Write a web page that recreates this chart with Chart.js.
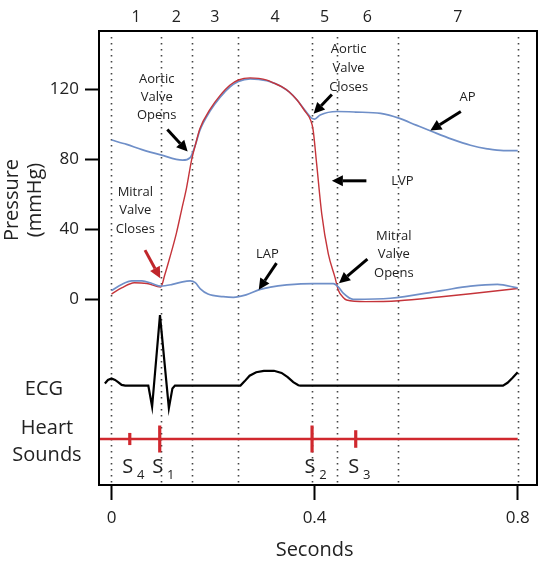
<!DOCTYPE html>
<html>
<head>
<meta charset="utf-8">
<script src="https://cdn.jsdelivr.net/npm/chart.js@4.4.1/dist/chart.umd.min.js"></script>
<style>
  html, body { margin: 0; padding: 0; background: #fff; }
</style>
</head>
<body>
<canvas id="wiggers" width="539" height="564"></canvas>
<script>
// phase boundaries (s) and phase numbers
const phaseT = [0, 0.097, 0.158, 0.249, 0.395, 0.444, 0.564, 0.8];
const phaseLabels = ["1", "2", "3", "4", "5", "6", "7"];

// aortic pressure (mmHg)
const apT = [0, 0.03, 0.06, 0.097, 0.14, 0.155, 0.165, 0.174, 0.194, 0.214, 0.233, 0.25, 0.273, 0.29, 0.306, 0.32, 0.335, 0.35, 0.365, 0.381, 0.394, 0.4, 0.411, 0.444, 0.48, 0.53, 0.566, 0.6, 0.63, 0.67, 0.707, 0.74, 0.772, 0.8];
const apP = [91, 88.5, 85.5, 82.5, 79.5, 81, 88, 96.5, 107.5, 115.5, 121.3, 124.5, 126, 125.7, 124.9, 123.5, 121.5, 118.5, 114, 108, 103.5, 103, 105.3, 107.3, 107, 106.2, 103.5, 99.5, 96, 91.5, 88, 86, 85, 85];

// left ventricular pressure (mmHg)
const lvpT = [0, 0.02, 0.045, 0.07, 0.097, 0.105, 0.115, 0.128, 0.138, 0.148, 0.158, 0.166, 0.174, 0.194, 0.214, 0.233, 0.25, 0.273, 0.29, 0.306, 0.32, 0.335, 0.35, 0.365, 0.381, 0.392, 0.397, 0.404, 0.414, 0.427, 0.44, 0.447, 0.455, 0.463, 0.5, 0.566, 0.65, 0.707, 0.8];
const lvpP = [3, 6.5, 9.5, 9, 7, 14, 24, 38, 51, 64, 80, 89, 97.5, 108.5, 116.5, 122.3, 125.3, 126.5, 126.2, 125.2, 123.5, 121.5, 118.5, 114, 107.5, 102.5, 97, 77.5, 49, 26, 12.7, 5, 1.5, -0.4, -1.3, -0.8, 1.5, 3.2, 6.2];

// left atrial pressure (mmHg)
const lapT = [0, 0.02, 0.04, 0.06, 0.08, 0.097, 0.12, 0.14, 0.155, 0.165, 0.175, 0.19, 0.22, 0.24, 0.265, 0.293, 0.313, 0.345, 0.397, 0.437, 0.447, 0.457, 0.476, 0.549, 0.65, 0.707, 0.76, 0.8];
const lapP = [5, 8.5, 10.5, 10.5, 9, 7.5, 8.5, 10, 10.5, 9.5, 6, 3, 1.5, 1.1, 2.5, 5.7, 7, 8.2, 9, 9, 7, 3.4, 0, 0.6, 5, 7.5, 8.5, 6.5];

// ECG (mV, arbitrary)
const ecgT = [-0.013, -0.007, 0, 0.007, 0.013, 0.02, 0.027, 0.0725, 0.08, 0.0955, 0.113, 0.12, 0.125, 0.254, 0.262, 0.272, 0.285, 0.3, 0.32, 0.335, 0.347, 0.358, 0.368, 0.372, 0.771, 0.78, 0.79, 0.8];
const ecgV = [0.03, 0.08, 0.1, 0.08, 0.05, 0.01, 0, 0, -0.3, 1.0, -0.32, -0.04, 0, 0, 0.06, 0.14, 0.19, 0.21, 0.21, 0.18, 0.12, 0.05, 0.005, 0, 0, 0.04, 0.11, 0.19];

// heart sounds
const soundT = [0.036, 0.095, 0.395, 0.481];
const soundAmp = [0.45, 1, 1, 0.65];
const soundNames = ["4", "1", "2", "3"];

const xTicks = [0, 0.4, 0.8];
const yTicks = [0, 40, 80, 120];

const BLUE = "#6f8fc8";
const RED = "#c5343a";
const SOUND_RED = "#d0282e";
const FONT = "'Open Sans', sans-serif";

const xMin = -0.0246, xMax = 0.838;

function pts(xs, ys) {
  return xs.map((x, i) => ({ x: x, y: ys[i] }));
}

// annotations: text lines at (t, mmHg), arrows from tail to head in (t, mmHg)
const notes = [
  { lines: ["Aortic", "Valve", "Opens"], t: 0.089, p: [125.7, 115.4, 105], arrow: [0.11, 97, 0.15, 84.4], color: "#000" },
  { lines: ["Mitral", "Valve", "Closes"], t: 0.047, p: [61.4, 51.1, 40.2], arrow: [0.066, 28.1, 0.096, 12.1], color: "#c0262b" },
  { lines: ["LAP"], t: 0.307, p: [25.8], arrow: [0.325, 20.7, 0.29, 5.5], color: "#000" },
  { lines: ["Aortic", "Valve", "Closes"], t: 0.467, p: [143, 132, 121], arrow: [0.434, 117, 0.398, 106], color: "#000" },
  { lines: ["AP"], t: 0.701, p: [115.4], arrow: [0.688, 107.3, 0.628, 96.4], color: "#000" },
  { lines: ["LVP"], t: 0.573, p: [67.7], arrow: [0.502, 67.7, 0.434, 67.7], color: "#000" },
  { lines: ["Mitral", "Valve", "Opens"], t: 0.556, p: [36.2, 25.8, 14.9], arrow: [0.504, 23, 0.448, 9.2], color: "#000" }
];

function drawArrow(ctx, x1, y1, x2, y2, color) {
  const ang = Math.atan2(y2 - y1, x2 - x1);
  const head = 11, half = 5.5;
  const bx = x2 - Math.cos(ang) * head, by = y2 - Math.sin(ang) * head;
  ctx.strokeStyle = color;
  ctx.fillStyle = color;
  ctx.lineWidth = 3;
  ctx.beginPath();
  ctx.moveTo(x1, y1);
  ctx.lineTo(bx, by);
  ctx.stroke();
  ctx.beginPath();
  ctx.moveTo(x2, y2);
  ctx.lineTo(bx + Math.sin(ang) * half, by - Math.cos(ang) * half);
  ctx.lineTo(bx - Math.sin(ang) * half, by + Math.cos(ang) * half);
  ctx.closePath();
  ctx.fill();
}

const decor = {
  id: "decor",
  beforeDatasetsDraw(chart) {
    const { ctx, chartArea: a, scales: { x } } = chart;
    ctx.save();
    ctx.strokeStyle = "#444";
    ctx.lineWidth = 1.6;
    ctx.setLineDash([1.6, 4.4]);
    phaseT.forEach(t => {
      const px = Math.round(x.getPixelForValue(t)) + 0.5;
      ctx.beginPath();
      ctx.moveTo(px, a.top + 6);
      ctx.lineTo(px, a.bottom - 2);
      ctx.stroke();
    });
    ctx.restore();
  },
  afterDatasetsDraw(chart) {
    const { ctx, chartArea: a, scales: { x, y, snd } } = chart;
    ctx.save();
    // frame
    ctx.strokeStyle = "#000";
    ctx.lineWidth = 2;
    ctx.strokeRect(a.left, a.top, a.right - a.left, a.bottom - a.top);

    // phase numbers
    ctx.fillStyle = "#222";
    ctx.font = "16px " + FONT;
    ctx.textAlign = "center";
    ctx.textBaseline = "middle";
    phaseLabels.forEach((lab, i) => {
      const t = (phaseT[i] + phaseT[i + 1]) / 2;
      ctx.fillText(lab, x.getPixelForValue(t), 17);
    });

    // annotations
    ctx.font = "13px " + FONT;
    notes.forEach(n => {
      ctx.fillStyle = "#222";
      n.lines.forEach((ln, i) => {
        ctx.fillText(ln, x.getPixelForValue(n.t), y.getPixelForValue(n.p[i]));
      });
      const [t1, p1, t2, p2] = n.arrow;
      drawArrow(ctx, x.getPixelForValue(t1), y.getPixelForValue(p1),
        x.getPixelForValue(t2), y.getPixelForValue(p2), n.color);
    });

    // heart sound labels
    ctx.fillStyle = "#222";
    const sy = snd.getPixelForValue(0) + 28;
    soundT.forEach((t, i) => {
      const px = x.getPixelForValue(t);
      ctx.font = "20px " + FONT;
      ctx.fillText("S", px - 2, sy);
      ctx.font = "13px " + FONT;
      ctx.fillText(soundNames[i], px + 11, sy + 8);
    });

    // left side labels
    ctx.font = "20px " + FONT;
    ctx.fillText("ECG", 44, 389);
    ctx.fillText("Heart", 47, 428);
    ctx.fillText("Sounds", 47, 455);

    // y title
    ctx.save();
    ctx.translate(12, 200);
    ctx.rotate(-Math.PI / 2);
    ctx.fillText("Pressure", 0, 0);
    ctx.restore();
    ctx.save();
    ctx.translate(35, 200);
    ctx.rotate(-Math.PI / 2);
    ctx.fillText("(mmHg)", 0, 0);
    ctx.restore();

    // x title
    ctx.fillText("Seconds", x.getPixelForValue(0.4), 550);
    ctx.restore();
  }
};

new Chart(document.getElementById("wiggers"), {
  type: "line",
  data: {
    datasets: [
      { label: "LAP", data: pts(lapT, lapP), yAxisID: "y", borderColor: BLUE, borderWidth: 1.7, pointRadius: 0, cubicInterpolationMode: "monotone" },
      { label: "LVP", data: pts(lvpT, lvpP), yAxisID: "y", borderColor: RED, borderWidth: 1.4, pointRadius: 0, cubicInterpolationMode: "monotone" },
      { label: "AP", data: pts(apT, apP), yAxisID: "y", borderColor: BLUE, borderWidth: 1.7, pointRadius: 0, cubicInterpolationMode: "monotone" },
      { label: "ECG", data: pts(ecgT, ecgV), yAxisID: "ecg", borderColor: "#000", borderWidth: 2.2, pointRadius: 0, tension: 0 },
      { label: "Sounds", data: [{ x: xMin, y: 0 }, { x: 0.8, y: 0 }], yAxisID: "snd", borderColor: SOUND_RED, borderWidth: 2.5, pointRadius: 0 },
      {
        label: "Sound marks", data: soundT.map(t => ({ x: t, y: 0 })), yAxisID: "snd", showLine: false,
        pointStyle: "line", rotation: 90, pointRadius: c => soundAmp[c.dataIndex] * 13.5,
        pointBorderWidth: 3.2, pointBorderColor: SOUND_RED, borderColor: SOUND_RED
      }
    ]
  },
  options: {
    responsive: false,
    animation: false,
    layout: { autoPadding: false, padding: { top: 31, right: 2, left: 0, bottom: 0 } },
    plugins: { legend: { display: false }, tooltip: { enabled: false } },
    scales: {
      x: {
        type: "linear", min: xMin, max: xMax,
        afterBuildTicks: s => { s.ticks = xTicks.map(v => ({ value: v })); },
        afterFit: s => { s.height = 79; },
        ticks: { font: { size: 17, family: FONT }, color: "#222", padding: 8, callback: v => String(v) },
        grid: { drawOnChartArea: false, drawTicks: true, tickLength: 15, tickWidth: 2, tickColor: "#000" },
        border: { display: false }
      },
      y: {
        position: "left", min: -106.1, max: 153.3,
        afterBuildTicks: s => { s.ticks = yTicks.map(v => ({ value: v })); },
        afterFit: s => { s.width = 99; },
        ticks: { font: { size: 17, family: FONT }, color: "#222", padding: 6 },
        grid: { drawOnChartArea: false, drawTicks: true, tickLength: 14, tickWidth: 2, tickColor: "#000" },
        border: { display: false }
      },
      ecg: { display: false, min: -1.41, max: 5.03 },
      snd: { display: false, min: -1, max: 8.87 }
    }
  },
  plugins: [decor]
});
</script>
</body>
</html>
